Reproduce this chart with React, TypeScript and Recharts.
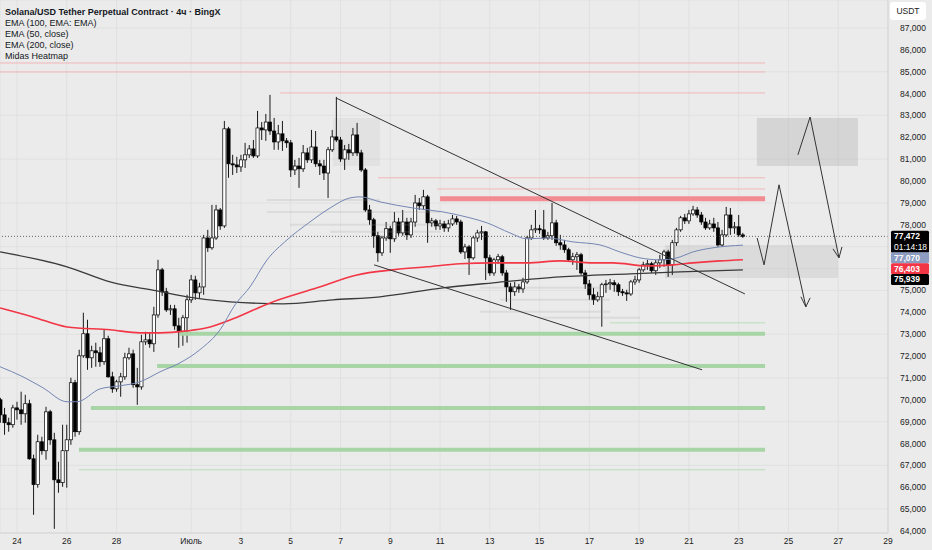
import React from 'react';
import {
  ComposedChart,
  Bar,
  Line,
  XAxis,
  YAxis,
  CartesianGrid,
  ReferenceLine,
  ReferenceArea,
} from 'recharts';

// time axis is in "days since 1 June": 24 = June 24, 31 = July 1, 53 = July 23
const FIRST_CANDLE_DAY = 23.333; // June 23, 08:00
const CANDLE_DAYS = 1 / 6; // 4h candles

const opens = [
  70000, 69310, 68950, 68860, 69630, 69540, 69360, 69820, 67300, 66120,
  68080, 67670, 69450, 68170, 66340, 66210, 67670, 68170, 70780, 68540,
  72010, 73020, 71920, 72240, 72150, 71740, 72790, 71050, 70500, 70820,
  71050, 71920, 72100, 70690, 70590, 72650, 72740, 72560, 73880, 75940,
  74940, 74110, 74160, 73380, 73110, 73750, 74570, 75480, 74890, 75160,
  77400, 76950, 77400, 78680, 77950, 82390, 80790, 80740, 80650, 80970,
  81200, 81470, 81150, 82430, 82340, 82700, 82290, 81790, 82160, 81840,
  81750, 80510, 80690, 80560, 81290, 80970, 81560, 80790, 80690, 80370,
  81430, 82020, 81880, 81010, 81430, 81290, 82110, 81290, 80510, 78680,
  78230, 77500, 76720, 77400, 77820, 77360, 78130, 77630, 78130, 77540,
  78130, 79000, 78870, 79280, 78090, 78180, 77950, 78040, 77860, 78040,
  78270, 78130, 76760, 76990, 76490, 77400, 77630, 77680, 76490, 75800,
  76400, 76540, 75800, 75160, 74940, 75160, 75070, 75390, 77400, 77770,
  77820, 77770, 77400, 77500, 78090, 77180, 77080, 76860, 76400, 76540,
  76630, 75800, 75300, 74800, 74570, 74710, 75260, 75300, 75350, 75260,
  74940, 74890, 74840, 75390, 75480, 75940, 76170, 76220, 75900, 76260,
  76400, 76760, 76170, 77180, 77770, 78320, 78180, 78500, 78680, 78450,
  78130, 77860, 78040, 77860, 77080, 77540, 78450, 77860, 77910, 77540,
];

const highs = [
  70090, 69630, 69180, 69770, 69910, 70370, 70230, 70000, 67490, 68400,
  68310, 69680, 69540, 68490, 67170, 68860, 68860, 71010, 70910, 72290,
  73980, 73660, 72470, 72610, 72420, 73200, 72930, 71280, 70910, 71230,
  72150, 72380, 72290, 71460, 72970, 73110, 73060, 74250, 76400, 76030,
  75120, 74340, 74340, 73750, 73880, 74800, 75710, 75670, 75350, 77540,
  77770, 78910, 78910, 78770, 82750, 82480, 81200, 81110, 81200, 81750,
  81650, 81880, 83210, 82700, 83070, 83940, 82890, 82570, 82750, 81970,
  81880, 80970, 81060, 81650, 81520, 82340, 82290, 80970, 80970, 81560,
  82340, 83850, 82020, 81650, 81700, 82430, 82660, 81430, 80600, 78910,
  78320, 77680, 77500, 78130, 77950, 78590, 78320, 78680, 78320, 78320,
  79370, 79230, 79600, 79370, 78320, 78270, 78230, 78180, 78230, 78450,
  78410, 78230, 77130, 77080, 77500, 77770, 77950, 77720, 76630, 76490,
  76670, 76630, 75940, 75350, 75390, 75300, 75580, 77500, 78000, 78680,
  78000, 78680, 77680, 79000, 78230, 77540, 77310, 76950, 76720, 76760,
  76720, 75940, 75480, 75120, 74940, 75350, 75480, 75530, 75480, 75350,
  75070, 75030, 75480, 75670, 76030, 76310, 76400, 76310, 76400, 76630,
  76860, 76860, 77310, 77860, 78410, 78500, 78680, 78870, 78820, 78590,
  78320, 78230, 78320, 78130, 77770, 78820, 78770, 78130, 78450, 77630,
];

const lows = [
  68950, 68400, 68540, 68720, 69090, 68860, 68950, 67260, 64740, 65980,
  67490, 67260, 67940, 64100, 65750, 66020, 65980, 67940, 68310, 68400,
  71920, 71370, 71460, 71510, 71510, 71600, 71010, 70320, 70370, 70140,
  70910, 71830, 70550, 69770, 70460, 72510, 72380, 72190, 73750, 74750,
  74020, 73880, 73200, 72380, 72470, 72610, 74430, 74570, 74660, 74800,
  76760, 76860, 77310, 77770, 77860, 80150, 80280, 80370, 80420, 80600,
  81060, 81060, 81060, 81880, 81840, 82110, 81430, 81430, 81380, 81520,
  80190, 80280, 79690, 80420, 80830, 80830, 80650, 80280, 80050, 79230,
  81330, 81790, 80880, 80510, 80970, 81150, 81150, 80420, 78590, 78000,
  76950, 76310, 76580, 77270, 76720, 77220, 77500, 77500, 77310, 77400,
  77910, 78680, 78680, 77180, 77910, 77770, 77770, 77680, 77680, 77950,
  78000, 76670, 76440, 75710, 76400, 77220, 77310, 75480, 75670, 75670,
  76220, 75670, 74480, 74110, 74750, 74890, 74890, 75300, 77310, 77630,
  77590, 77310, 77310, 77310, 77040, 76860, 76720, 76310, 76170, 75940,
  75710, 75070, 74570, 74340, 74480, 73340, 74890, 75030, 74940, 74750,
  74750, 74520, 74750, 75260, 75350, 75850, 75940, 75800, 75710, 76030,
  76080, 75620, 75710, 77040, 77680, 78040, 78040, 78410, 78320, 78000,
  77770, 77770, 77680, 76990, 76990, 77450, 77540, 77590, 77450, 77400,
];

const closes = [
  69310, 68950, 68860, 69630, 69540, 69360, 69820, 67300, 66120, 68080,
  67670, 69450, 68170, 66340, 66210, 67670, 68170, 70780, 68540, 72010,
  73020, 71920, 72240, 72150, 71740, 72790, 71050, 70500, 70820, 71050,
  71920, 72100, 70690, 70590, 72650, 72740, 72560, 73880, 75940, 74940,
  74110, 74160, 73380, 73110, 73750, 74570, 75480, 74890, 75160, 77400,
  76950, 77400, 78680, 77950, 82390, 80790, 80740, 80650, 80970, 81200,
  81470, 81150, 82430, 82340, 82700, 82290, 81790, 82160, 81840, 81750,
  80510, 80690, 80560, 81290, 80970, 81560, 80790, 80690, 80370, 81430,
  82020, 81880, 81010, 81430, 81290, 82110, 81290, 80510, 78680, 78230,
  77500, 76720, 77400, 77820, 77360, 78130, 77630, 78130, 77540, 78130,
  79000, 78870, 79280, 78090, 78180, 77950, 78040, 77860, 78040, 78270,
  78130, 76760, 76990, 76490, 77400, 77630, 77680, 76490, 75800, 76400,
  76540, 75800, 75160, 74940, 75160, 75070, 75390, 77400, 77770, 77820,
  77770, 77400, 77500, 78090, 77180, 77080, 76860, 76400, 76540, 76630,
  75800, 75300, 74800, 74570, 74710, 75260, 75300, 75350, 75260, 74940,
  74890, 74840, 75390, 75480, 75940, 76170, 76220, 75900, 76260, 76400,
  76760, 76170, 77180, 77770, 78320, 78180, 78500, 78680, 78450, 78130,
  77860, 78040, 77860, 77080, 77540, 78450, 77860, 77910, 77540, 77472,
];

// [day, price]
const ema50 = [
  [23.32, 71510], [24.24, 71050], [25.04, 70550], [26.01, 69910], [26.41, 69910],
  [27.34, 70500], [28.14, 70640], [28.94, 70820], [29.75, 71280], [30.55, 71690],
  [31.35, 72290], [32.16, 73200], [32.76, 74340], [33.36, 75160], [34.05, 76400],
  [34.85, 77310], [35.77, 78130], [36.58, 78770], [37.38, 79230], [37.78, 79280],
  [38.59, 79050], [39.91, 78770], [41.12, 78590], [42.2, 78320], [42.89, 78090],
  [43.81, 77630], [44.49, 77360], [45.3, 77400], [46.34, 77220], [47.43, 77080],
  [48.23, 76760], [49.03, 76490], [49.84, 76400], [50.52, 76490], [51.16, 76760],
  [51.97, 76950], [53.17, 77070],
];

const ema100 = [
  [23.32, 74200], [24.64, 73790], [26.01, 73330], [27.74, 73200], [28.94, 73060],
  [29.75, 73060], [30.83, 73150], [31.63, 73290], [32.68, 73700], [34.17, 74430],
  [36.06, 75120], [37.66, 75710], [39.11, 75940], [40.47, 76080], [41.8, 76220],
  [43.13, 76260], [44.49, 76260], [45.82, 76350], [47.15, 76260], [47.95, 76260],
  [49.31, 76120], [50.36, 76170], [51.16, 76260], [52.25, 76350], [53.17, 76403],
];

const ema200 = [
  [23.32, 76760], [26.01, 76080], [27.74, 75390], [29.63, 74980], [30.83, 74710],
  [32.56, 74480], [34.69, 74390], [36.7, 74570], [38.59, 74710], [41.12, 75120],
  [43.13, 75350], [45.82, 75620], [48.63, 75760], [50.64, 75850], [53.17, 75939],
];

const dayTicks = [24, 26, 28, 31, 33, 35, 37, 39, 41, 43, 45, 47, 49, 51, 53, 55, 57, 59];
const priceTicks = [
  64000, 65000, 66000, 67000, 68000, 69000, 70000, 71000, 72000, 73000, 74000, 75000,
  76000, 77000, 78000, 79000, 80000, 81000, 82000, 83000, 84000, 85000, 86000, 87000,
];
// tick labels hidden under the price tags
const coveredTicks = [76000, 77000];

// heatmap levels: [fromDay, toDay, price]
const ZONE_END = 54.06;
const redThin = [
  [23.317, ZONE_END, 85400], [23.317, ZONE_END, 84990], [34.57, ZONE_END, 84030],
  [38.51, ZONE_END, 80150], [40.88, ZONE_END, 79640],
];
const redThick = [[41.0, ZONE_END, 79190]];
const greenThick = [
  [30.55, ZONE_END, 73020], [29.63, ZONE_END, 71550], [26.97, ZONE_END, 69630], [26.49, ZONE_END, 67720],
];
const greenThin = [[47.83, ZONE_END, 73520], [26.49, ZONE_END, 66800]];
const grayThin = [
  [34.05, 38.59, 79140], [34.05, 40.99, 78590], [34.97, 40.99, 78000], [36.58, 40.99, 77680],
  [42.6, 47.83, 75120], [43.41, 47.83, 74570], [42.6, 47.83, 74020], [45.02, 49.03, 73750],
];
// boxes: [x1, x2, y1, y2]
const darkBoxes = [[53.73, 57.79, 80690, 82890]];
const faintBoxes = [[36.7, 38.59, 80690, 82890]];
const lightBoxes = [[50.04, 56.99, 75570, 77080]];

// drawings
const channelTop = [[36.82, 83800], [53.25, 74840]];
const channelBottom = [[38.35, 76170], [51.53, 71370]];
const pathA = [[53.74, 77400], [54.02, 76170], [54.62, 79830], [55.7, 74250]];
const headA = [[55.5, 74710], [55.7, 74250], [55.87, 74660]];
const pathB = [[55.38, 81200], [55.87, 82930], [57.03, 76490]];
const headB = [[56.79, 76900], [57.03, 76490], [57.15, 76990]];

const LAST_PRICE = 77472;
const priceTags = [
  { value: 77472, text: '77,472', sub: '01:14:18', bg: '#000000', nudge: 0 },
  { value: 77070, text: '77,070', sub: '', bg: '#8d9cc1', nudge: 12.5 },
  { value: 76403, text: '76,403', sub: '', bg: '#f23645', nudge: 9 },
  { value: 75939, text: '75,939', sub: '', bg: '#000000', nudge: 9.5 },
];

const FONT = "'Liberation Sans Narrow', 'Liberation Sans', Arial, sans-serif";

const candleRows = opens.map((o, i) => ({
  t: FIRST_CANDLE_DAY + i * CANDLE_DAYS,
  o,
  h: highs[i],
  l: lows[i],
  c: closes[i],
  range: [lows[i], highs[i]],
}));

const toRows = (pts: number[][]) => pts.map(([t, v]) => ({ t, v }));

const formatDay = (d: number) => (d <= 30 ? String(d) : d === 31 ? 'Июль' : String(d - 30));
const formatPrice = (v: number) => (coveredTicks.includes(v) ? '' : v.toLocaleString('en-US'));

const BODY_W = 3.2;

const Candle = (props: any) => {
  let { x, y, width, height } = props;
  const row = props.payload && props.payload.o !== undefined ? props.payload : candleRows[props.index];
  if (!row) return null;
  if (height < 0) {
    y += height;
    height = -height;
  }
  const { o, h, l, c } = row;
  const k = height / Math.max(h - l, 1);
  const yOf = (v: number) => y + (h - v) * k;
  const cx = x + width / 2;
  const top = yOf(Math.max(o, c));
  const bot = yOf(Math.min(o, c));
  const up = c >= o;
  return (
    <g>
      <line x1={cx} x2={cx} y1={y} y2={y + height} stroke="#000" strokeWidth={0.9} />
      <rect
        x={cx - BODY_W / 2}
        y={top}
        width={BODY_W}
        height={Math.max(bot - top, 0.8)}
        fill={up ? '#ffffff' : '#000000'}
        stroke="#000"
        strokeWidth={0.7}
      />
    </g>
  );
};

const PriceTag = ({ viewBox, tag }: any) => {
  if (!viewBox) return null;
  const left = viewBox.x + viewBox.width + 3;
  const top = viewBox.y - 5.5 + tag.nudge;
  const h = tag.sub ? 22 : 11;
  return (
    <g>
      <rect x={left} y={top} width={38} height={h} rx={1.5} fill={tag.bg} />
      <text x={left + 3} y={top + 8.5} fill="#fff" fontSize={8.5} fontFamily={FONT} fontWeight={600}>
        {tag.text}
      </text>
      {tag.sub ? (
        <text x={left + 3} y={top + 19} fill="#fff" fontSize={8.5} fontFamily={FONT}>
          {tag.sub}
        </text>
      ) : null}
    </g>
  );
};

const segLines = (pts: number[][], key: string, color: string, w: number) =>
  pts.slice(1).map((p, i) => (
    <ReferenceLine
      key={`${key}-${i}`}
      segment={[{ x: pts[i][0], y: pts[i][1] }, { x: p[0], y: p[1] }]}
      stroke={color}
      strokeWidth={w}
    />
  ));

const levelLines = (levels: number[][], key: string, color: string, w: number) =>
  levels.map(([a, b, p], i) => (
    <ReferenceLine
      key={`${key}-${i}`}
      segment={[{ x: a, y: p }, { x: b, y: p }]}
      stroke={color}
      strokeWidth={w}
    />
  ));

const boxes = (list: number[][], key: string, color: string, opacity: number) =>
  list.map(([a, b, y1, y2], i) => (
    <ReferenceArea key={`${key}-${i}`} x1={a} x2={b} y1={y1} y2={y2} fill={color} fillOpacity={opacity} stroke="none" />
  ));

const legendLines = [
  'Solana/USD Tether Perpetual Contract · 4ч · BingX',
  'EMA (100, EMA: EMA)',
  'EMA (50, close)',
  'EMA (200, close)',
  'Midas Heatmap',
];

export default function App() {
  return (
    <div
      style={{
        position: 'absolute',
        left: 0,
        top: 0,
        width: 932,
        height: 550,
        background: '#ebebeb',
        fontFamily: FONT,
        overflow: 'hidden',
      }}
    >
      <ComposedChart
        width={932}
        height={550}
        data={candleRows}
        margin={{ top: 0, right: 0, bottom: 0, left: 0 }}
      >
        <CartesianGrid stroke="#dedede" strokeWidth={0.8} />
        <XAxis
          dataKey="t"
          type="number"
          domain={[23.317, 59]}
          allowDataOverflow
          ticks={dayTicks}
          tickFormatter={formatDay}
          height={17}
          tickSize={0}
          tickMargin={5}
          axisLine={{ stroke: '#d4d4d4' }}
          tick={{ fontSize: 8.5, fill: '#222', fontFamily: FONT }}
        />
        <YAxis
          orientation="right"
          type="number"
          domain={[63909, 88280]}
          allowDataOverflow
          ticks={priceTicks}
          tickFormatter={formatPrice}
          width={44}
          tickSize={0}
          tickMargin={12}
          axisLine={{ stroke: '#d4d4d4' }}
          tick={{ fontSize: 8.5, fill: '#222', fontFamily: FONT, textAnchor: 'start' }}
        />

        {boxes(darkBoxes, 'db', '#b4b4b4', 0.4)}
        {boxes(faintBoxes, 'fb', '#c8c8c8', 0.25)}
        {boxes(lightBoxes, 'lb', '#c4c4c4', 0.4)}

        {levelLines(grayThin, 'gt', 'rgba(150,150,150,0.18)', 2)}
        {levelLines(redThin, 'rt', '#f2b6ba', 1)}
        {levelLines(redThick, 'rk', '#f28b92', 5)}
        {levelLines(greenThick, 'gk', '#a8d5a6', 4)}
        {levelLines(greenThin, 'gn', '#b9ddb8', 1)}

        <ReferenceLine y={LAST_PRICE} stroke="#444" strokeDasharray="1 2" strokeWidth={0.8} />

        <Line data={toRows(ema200)} dataKey="v" type="monotone" stroke="#3a3a3a" strokeWidth={1.3} dot={false} isAnimationActive={false} />
        <Line data={toRows(ema100)} dataKey="v" type="monotone" stroke="#f23645" strokeWidth={1.6} dot={false} isAnimationActive={false} />
        <Line data={toRows(ema50)} dataKey="v" type="monotone" stroke="#7486b3" strokeWidth={1} dot={false} isAnimationActive={false} />

        <Bar dataKey="range" barSize={3} shape={<Candle />} isAnimationActive={false} />

        {segLines(channelTop, 'ct', '#333', 1)}
        {segLines(channelBottom, 'cb', '#333', 1)}
        {segLines(pathA, 'pa', '#333', 1)}
        {segLines(headA, 'ha', '#333', 1)}
        {segLines(pathB, 'pb', '#333', 1)}
        {segLines(headB, 'hb', '#333', 1)}

        {priceTags.map((tag) => (
          <ReferenceLine
            key={tag.text}
            y={tag.value}
            stroke="none"
            label={(p: any) => <PriceTag {...p} tag={tag} />}
          />
        ))}
      </ComposedChart>

      <div style={{ position: 'absolute', left: 5, top: 7, lineHeight: '11px', fontSize: 9, color: '#131722' }}>
        {legendLines.map((s, i) => (
          <div key={s} style={{ fontWeight: i === 0 ? 600 : 400 }}>
            {s}
          </div>
        ))}
      </div>

      <div
        style={{
          position: 'absolute',
          left: 890,
          top: 2,
          width: 36,
          height: 18,
          background: '#fff',
          borderRadius: 3,
          fontSize: 8.5,
          lineHeight: '18px',
          textAlign: 'center',
          color: '#222',
        }}
      >
        USDT
      </div>
    </div>
  );
}
